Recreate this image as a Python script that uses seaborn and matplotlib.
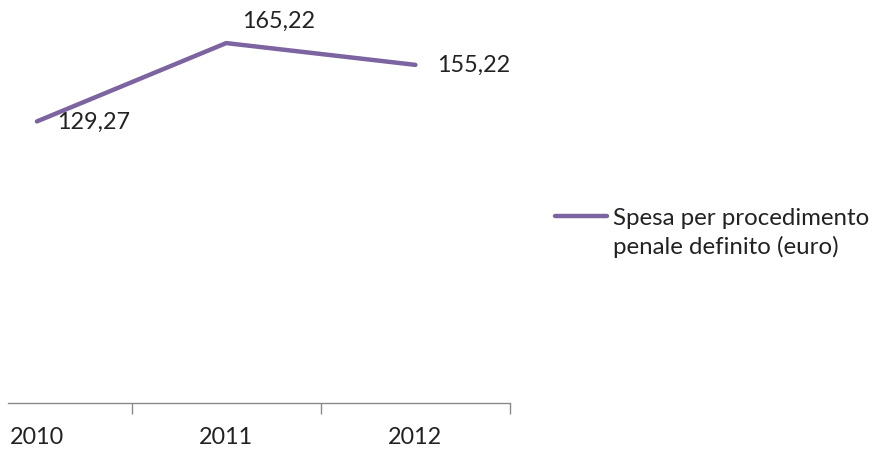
import matplotlib
matplotlib.use("Agg")
import matplotlib.pyplot as plt
import seaborn as sns
import pandas as pd
from matplotlib.lines import Line2D

years = ["2010", "2011", "2012"]
spesa = [129.27, 165.22, 155.22]
series_label = ["Spesa per procedimento", "penale definito (euro)"]
value_labels = ["129,27", "165,22", "155,22"]

sns.set_theme(style="white")
plt.rcParams["font.family"] = ["Lato", "DejaVu Sans"]

color = "#7B64A0"
text_color = "#222222"
df = pd.DataFrame({"anno": range(len(years)), "spesa": spesa})

fig = plt.figure(figsize=(8.75, 4.5), dpi=100)
ax = fig.add_axes([8 / 875, 47 / 450, 502 / 875, 403 / 450])
sns.lineplot(data=df, x="anno", y="spesa", ax=ax, color=color, linewidth=3.2, legend=False)

ax.set_xlim(-0.153, 2.5)
ax.set_ylim(0, 185)
ax.set_xlabel("")
ax.set_ylabel("")
ax.set_yticks([])
ax.set_xticks(range(len(years)))
ax.set_xticklabels(years, fontsize=16.8, color=text_color)
ax.set_xticks([0.5, 1.5, 2.5], minor=True)
ax.tick_params(axis="x", which="major", length=0, pad=17)
ax.tick_params(axis="x", which="minor", length=8, width=1, color="#8a8a8a", direction="out", bottom=True)
for s in ["top", "right", "left"]:
    ax.spines[s].set_visible(False)
ax.spines["bottom"].set_color("#8a8a8a")
ax.spines["bottom"].set_linewidth(1)

# value labels next to each point (offsets in pixels)
offsets = [(20, -1), (16, 22), (22, 0)]
for i, (txt, (dx, dy)) in enumerate(zip(value_labels, offsets)):
    ax.annotate(txt, (i, spesa[i]), xytext=(dx * 0.72, dy * 0.72), textcoords="offset points",
                ha="left", va="center", fontsize=16.8, color=text_color)

# legend: line sample plus two-line label
fig.add_artist(Line2D([555 / 875, 607 / 875], [1 - 216 / 450] * 2, color=color, linewidth=3.2,
                      transform=fig.transFigure))
for line, base in zip(series_label, [225, 254]):
    fig.text(613 / 875, 1 - base / 450, line, ha="left", va="baseline", fontsize=17.3,
             color=text_color, transform=fig.transFigure)

fig.savefig("out.png", dpi=100)
